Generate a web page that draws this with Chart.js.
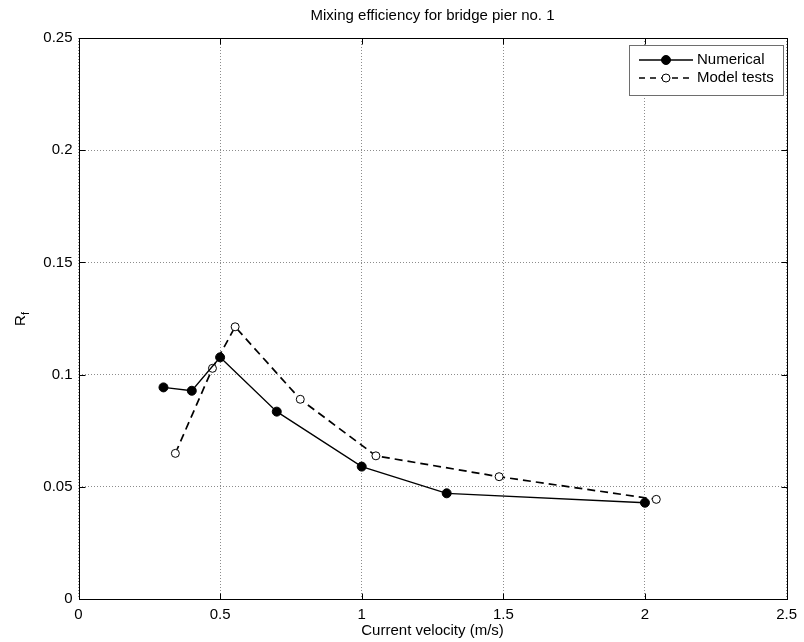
<!DOCTYPE html>
<html>
<head>
<meta charset="utf-8">
<script src="https://cdn.jsdelivr.net/npm/chart.js@4"></script>
<style>
  html, body { margin: 0; padding: 0; background: #fff; }
  canvas { display: block; }
</style>
</head>
<body>
<canvas id="chart" width="804" height="642"></canvas>
<script>
// data
const numX = [0.3, 0.4, 0.5, 0.7, 1.0, 1.3, 2.0];
const numY = [0.0943, 0.0928, 0.1077, 0.0835, 0.059, 0.0471, 0.0429];
const testX = [0.342, 0.473, 0.553, 0.783, 1.05, 1.485, 2.04];
const testY = [0.0649, 0.1028, 0.1213, 0.089, 0.0638, 0.0545, 0.0444];
const xTicks = [0, 0.5, 1, 1.5, 2, 2.5];
const yTicks = [0, 0.05, 0.1, 0.15, 0.2, 0.25];

const titleText = "Mixing efficiency for bridge pier no. 1";
const xLabel = "Current velocity (m/s)";
const seriesNames = ["Numerical", "Model tests"];

const font = "'Liberation Sans', Arial, sans-serif";
const black = "#000",
  gridGray = "#8c8c8c";

const toPts = (xs, ys) => xs.map((x, i) => ({ x, y: ys[i] }));

// box, inner ticks, labels and legend in matlab style
const matlabFrame = {
  id: "matlabFrame",
  afterDraw(chart) {
    const { ctx, chartArea: a, scales } = chart;
    const L = Math.round(a.left) + 0.5, R = Math.round(a.right) + 0.5;
    const T = Math.round(a.top) + 0.5, B = Math.round(a.bottom) + 0.5;
    ctx.save();
    ctx.strokeStyle = black;
    ctx.lineWidth = 1;
    ctx.setLineDash([]);
    ctx.strokeRect(L, T, R - L, B - T);

    const tk = 6;
    ctx.beginPath();
    xTicks.forEach(v => {
      const px = Math.round(scales.x.getPixelForValue(v)) + 0.5;
      ctx.moveTo(px, B); ctx.lineTo(px, B - tk);
      ctx.moveTo(px, T); ctx.lineTo(px, T + tk);
    });
    yTicks.forEach(v => {
      const py = Math.round(scales.y.getPixelForValue(v)) + 0.5;
      ctx.moveTo(L, py); ctx.lineTo(L + tk, py);
      ctx.moveTo(R, py); ctx.lineTo(R - tk, py);
    });
    ctx.stroke();

    // title + axis labels
    const cx = (a.left + a.right) / 2;
    ctx.fillStyle = black;
    ctx.textAlign = "center";
    ctx.textBaseline = "middle";
    ctx.font = "15px " + font;
    ctx.fillText(titleText, cx, 16);
    ctx.fillText(xLabel, cx, 631);

    ctx.save();
    ctx.translate(20, (a.top + a.bottom) / 2);
    ctx.rotate(-Math.PI / 2);
    ctx.textAlign = "left";
    ctx.textBaseline = "alphabetic";
    ctx.font = "15px " + font;
    const rw = ctx.measureText("R").width;
    ctx.fillText("R", -rw / 2 - 2, 5);
    ctx.font = "11px " + font;
    ctx.fillText("f", rw / 2 - 2, 9);
    ctx.restore();

    // legend
    const lx = 629.5, ly = 45.5, lw = 154, lh = 50;
    ctx.fillStyle = "#fff";
    ctx.fillRect(lx, ly, lw, lh);
    ctx.strokeStyle = "#6e6e6e";
    ctx.strokeRect(lx, ly, lw, lh);
    const rows = [60, 78];
    rows.forEach((ry, i) => {
      ctx.strokeStyle = black;
      ctx.lineWidth = i === 0 ? 1.3 : 1.5;
      ctx.setLineDash(i === 0 ? [] : [6, 5]);
      ctx.beginPath();
      ctx.moveTo(639, ry); ctx.lineTo(693, ry);
      ctx.stroke();
      ctx.setLineDash([]);
      ctx.beginPath();
      ctx.arc(666, ry, i === 0 ? 4.5 : 4, 0, Math.PI * 2);
      ctx.fillStyle = i === 0 ? black : "#fff";
      ctx.fill();
      ctx.lineWidth = 1;
      ctx.stroke();
      ctx.fillStyle = black;
      ctx.textAlign = "left";
      ctx.textBaseline = "middle";
      ctx.font = "15px " + font;
      ctx.fillText(seriesNames[i], 697, ry);
    });
    ctx.restore();
  },
};

new Chart(document.getElementById("chart"), {
  type: "scatter",
  data: {
    datasets: [
      {
        label: seriesNames[0],
        data: toPts(numX, numY),
        showLine: true,
        borderColor: black,
        borderWidth: 1.3,
        pointRadius: 4.5,
        pointBackgroundColor: black,
        pointBorderColor: black,
        pointBorderWidth: 1,
      },
      {
        label: seriesNames[1],
        data: toPts(testX, testY),
        showLine: true,
        borderColor: black,
        borderWidth: 1.7,
        borderDash: [8, 5],
        pointRadius: 4,
        pointBackgroundColor: "#fff",
        pointBorderColor: black,
        pointBorderWidth: 1,
      },
    ],
  },
  options: {
    responsive: false,
    animation: false,
    layout: { padding: { left: 0, right: 13, top: 38, bottom: 0 } },
    plugins: {
      legend: { display: false },
      tooltip: { enabled: false },
    },
    scales: {
      x: {
        type: "linear",
        min: 0,
        max: 2.5,
        afterBuildTicks: s => { s.ticks = xTicks.map(v => ({ value: v })); },
        afterFit: s => { s.height = 43; },
        grid: { color: gridGray, lineWidth: 1, drawTicks: false },
        border: { display: false, dash: [1, 2] },
        ticks: {
          padding: 7,
          color: black,
          font: { family: font, size: 15 },
          callback: v => String(v),
        },
      },
      y: {
        type: "linear",
        min: 0,
        max: 0.25,
        afterBuildTicks: s => { s.ticks = yTicks.map(v => ({ value: v })); },
        afterFit: s => { s.width = 78.5; },
        grid: { color: gridGray, lineWidth: 1, drawTicks: false },
        border: { display: false, dash: [1, 2] },
        ticks: {
          padding: 6,
          color: black,
          font: { family: font, size: 15 },
          callback: v => String(+v.toFixed(2)),
        },
      },
    },
  },
  plugins: [matlabFrame],
});
</script>
</body>
</html>
